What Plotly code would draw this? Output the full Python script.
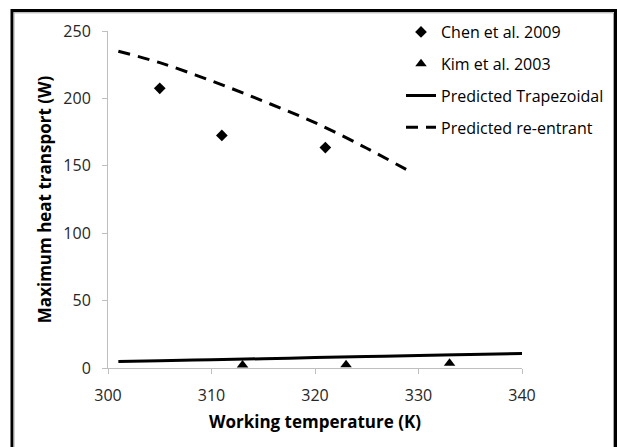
import plotly.graph_objects as go

# Data
chen_T = [305, 311, 321]
chen_W = [207.5, 172.5, 163.5]

kim_T = [313, 323, 333]
kim_W = [2.3, 2.5, 3.5]

trap_T = [301, 305, 310, 315, 320, 325, 330, 335, 340]
trap_W = [4.9, 5.4, 6.1, 6.9, 7.7, 8.5, 9.3, 10.0, 10.7]

reent_T = [301, 305, 310, 315, 320, 325, 329]
reent_W = [235, 226.5, 213, 198, 182, 163, 146.5]

x_ticks = [300, 310, 320, 330, 340]
y_ticks = [0, 50, 100, 150, 200, 250]

W, H = 617, 447
L, R, T, B = 108, 95, 31, 79
pw, ph = W - L - R, H - T - B


def px2x(px):
    return (px - L) / pw


def px2y(py):
    return (H - B - py) / ph


fig = go.Figure()
fig.add_trace(go.Scatter(x=chen_T, y=chen_W, mode="markers", name="Chen et al. 2009",
                         marker=dict(symbol="diamond", size=9, color="black"),
                         legendgroup="a"))
fig.add_trace(go.Scatter(x=kim_T, y=kim_W, mode="markers", name="Kim et al. 2003",
                         marker=dict(symbol="triangle-up", size=10, color="black"),
                         legendgroup="b"))
fig.add_trace(go.Scatter(x=trap_T, y=trap_W, mode="lines", name="Predicted Trapezoidal",
                         line=dict(color="black", width=3, shape="spline"),
                         legendgroup="c"))
fig.add_trace(go.Scatter(x=reent_T, y=reent_W, mode="lines", name="Predicted re-entrant",
                         line=dict(color="black", width=3, dash="12px,8px", shape="spline"),
                         legendgroup="d"))

axis_common = dict(showgrid=False, zeroline=False, showline=True, linecolor="#bfbfbf",
                   linewidth=1, ticks="outside", ticklen=5, tickcolor="#bfbfbf",
                   tickfont=dict(family="Open Sans", size=16, color="#262626"))

fig.update_layout(
    width=W, height=H,
    margin=dict(l=L, r=R, t=T, b=B, autoexpand=False),
    paper_bgcolor="white", plot_bgcolor="white",
    font=dict(family="Open Sans", color="black"),
    xaxis=dict(range=[300, 340], tickvals=x_ticks, ticklabelstandoff=8,
               title=dict(text="<b>Working temperature (K)</b>",
                          font=dict(family="Open Sans", size=17, color="black"),
                          standoff=10),
               **axis_common),
    yaxis=dict(range=[0, 250], tickvals=y_ticks, ticklabelstandoff=8,
               title=dict(text="<b>Maximum heat transport (W)</b>",
                          font=dict(family="Open Sans", size=17, color="black"),
                          standoff=7),
               **axis_common),
    legend=dict(x=px2x(401), y=px2y(15), xanchor="left", yanchor="top",
                font=dict(family="Open Sans", size=16, color="black"),
                bgcolor="rgba(0,0,0,0)", tracegroupgap=8, traceorder="grouped"),
    showlegend=True,
    shapes=[
        dict(type="rect", xref="paper", yref="paper",
             x0=px2x(12), x1=px2x(615.5), y0=px2y(470), y1=px2y(10.5),
             line=dict(color="black", width=3), layer="above"),
        dict(type="rect", xref="paper", yref="paper",
             x0=px2x(14), x1=px2x(613.5), y0=px2y(470), y1=px2y(12.8),
             line=dict(color="#a6a6a6", width=1), layer="above"),
    ],
)

page_reset = (
    "document.documentElement.style.margin='0';"
    "document.documentElement.style.overflow='hidden';"
    "document.body.style.margin='0';"
    "document.body.style.overflow='hidden';"
)

fig.write_html("out.html", post_script=page_reset,
               config={"displayModeBar": False})
